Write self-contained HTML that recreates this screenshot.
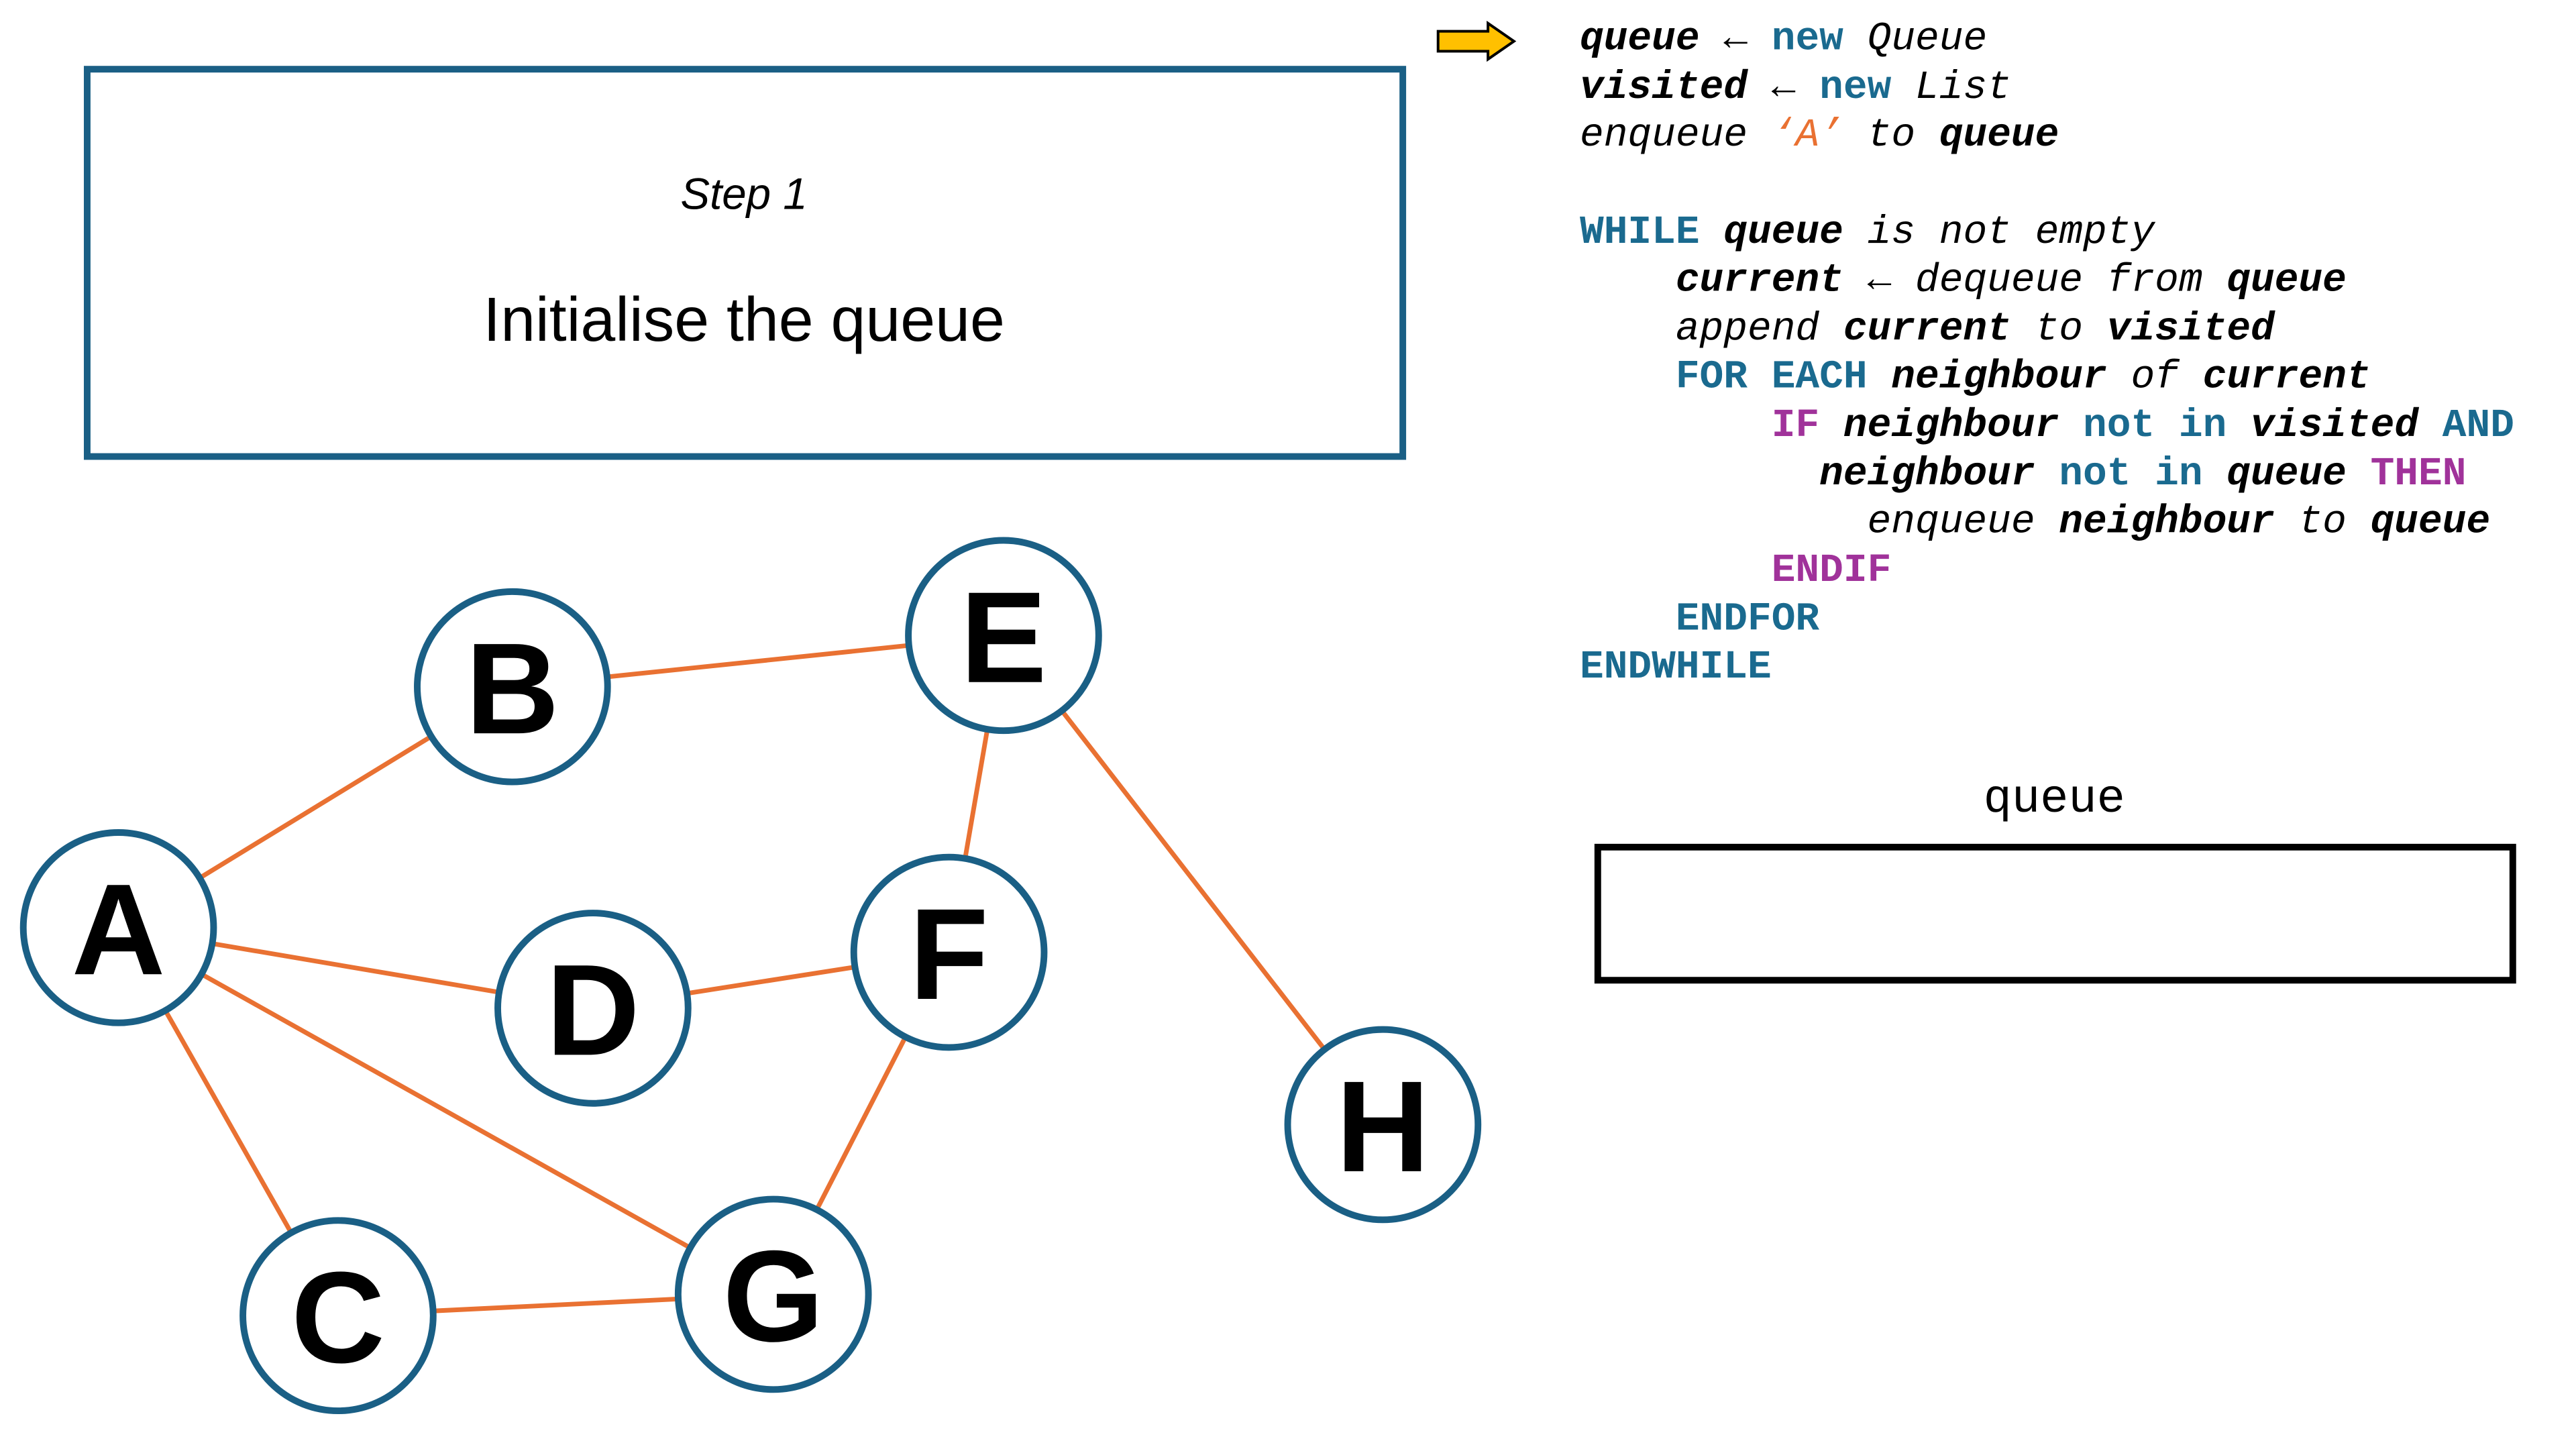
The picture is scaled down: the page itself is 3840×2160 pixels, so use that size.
<!DOCTYPE html>
<html><head><meta charset="utf-8"><style>
html,body{margin:0;padding:0;background:#fff;}
svg{display:block;}
</style></head><body>
<svg width="3840" height="2160" viewBox="0 0 3840 2160" xmlns="http://www.w3.org/2000/svg">
<g transform="scale(0.992)">
<rect x="131" y="104" width="1977" height="582" fill="none" stroke="#1a5f85" stroke-width="10"/>
<text x="1118" y="314" font-family="Liberation Sans, sans-serif" font-style="italic" font-size="66" text-anchor="middle">Step 1</text>
<text x="1118" y="512" font-family="Liberation Sans, sans-serif" font-size="94" text-anchor="middle">Initialise the queue</text>
<g stroke="#e97132" stroke-width="7">
<line x1="178" y1="1394" x2="770" y2="1032"/>
<line x1="770" y1="1032" x2="1508" y2="955"/>
<line x1="1508" y1="955" x2="1426" y2="1431"/>
<line x1="1508" y1="955" x2="2078" y2="1690"/>
<line x1="178" y1="1394" x2="891" y2="1515"/>
<line x1="891" y1="1515" x2="1426" y2="1431"/>
<line x1="178" y1="1394" x2="1162" y2="1945"/>
<line x1="178" y1="1394" x2="508" y2="1977"/>
<line x1="1426" y1="1431" x2="1162" y2="1945"/>
<line x1="508" y1="1977" x2="1162" y2="1945"/>
</g>
<g fill="#fff" stroke="#1a5f85" stroke-width="10">
<circle cx="178" cy="1394" r="143"/><circle cx="770" cy="1032" r="143"/>
<circle cx="1508" cy="955" r="143"/><circle cx="891" cy="1515" r="143"/>
<circle cx="1426" cy="1431" r="143"/><circle cx="2078" cy="1690" r="143"/>
<circle cx="508" cy="1977" r="143"/><circle cx="1162" cy="1945" r="143"/>
</g>
<g font-family="Liberation Sans, sans-serif" font-weight="bold" font-size="195" text-anchor="middle">
<text x="178" y="1464">A</text><text x="770" y="1102">B</text>
<text x="1508" y="1025">E</text><text x="891" y="1585">D</text>
<text x="1426" y="1501">F</text><text x="2078" y="1760">H</text>
<text x="508" y="2047">C</text><text x="1162" y="2015">G</text>
</g>
<polygon points="2161,47 2236,47 2236,35 2275,62 2236,89 2236,77 2161,77" fill="#ffc000" stroke="#000" stroke-width="4"/>
<g font-family="Liberation Mono, DejaVu Sans Mono, monospace" font-size="60" xml:space="preserve">
<text x="2374" y="74"><tspan font-weight="bold" font-style="italic">queue</tspan><tspan font-style="italic"> ← </tspan><tspan font-weight="bold" fill="#1a6a8f">new</tspan><tspan font-style="italic"> Queue</tspan></text>
<text x="2374" y="147"><tspan font-weight="bold" font-style="italic">visited</tspan><tspan font-style="italic"> ← </tspan><tspan font-weight="bold" fill="#1a6a8f">new</tspan><tspan font-style="italic"> List</tspan></text>
<text x="2374" y="219"><tspan font-style="italic">enqueue </tspan><tspan font-style="italic" fill="#e97132">‘A’</tspan><tspan font-style="italic"> to </tspan><tspan font-weight="bold" font-style="italic">queue</tspan></text>
<text x="2374" y="365"><tspan font-weight="bold" fill="#1a6a8f">WHILE</tspan><tspan> </tspan><tspan font-weight="bold" font-style="italic">queue</tspan><tspan font-style="italic"> is not empty</tspan></text>
<text x="2518" y="437"><tspan font-weight="bold" font-style="italic">current</tspan><tspan font-style="italic"> ← dequeue from </tspan><tspan font-weight="bold" font-style="italic">queue</tspan></text>
<text x="2518" y="510"><tspan font-style="italic">append </tspan><tspan font-weight="bold" font-style="italic">current</tspan><tspan font-style="italic"> to </tspan><tspan font-weight="bold" font-style="italic">visited</tspan></text>
<text x="2518" y="582"><tspan font-weight="bold" fill="#1a6a8f">FOR EACH</tspan><tspan> </tspan><tspan font-weight="bold" font-style="italic">neighbour</tspan><tspan font-style="italic"> of </tspan><tspan font-weight="bold" font-style="italic">current</tspan></text>
<text x="2662" y="655"><tspan font-weight="bold" fill="#a0329a">IF</tspan><tspan> </tspan><tspan font-weight="bold" font-style="italic">neighbour</tspan><tspan> </tspan><tspan font-weight="bold" fill="#1a6a8f">not in</tspan><tspan> </tspan><tspan font-weight="bold" font-style="italic">visited</tspan><tspan> </tspan><tspan font-weight="bold" fill="#1a6a8f">AND</tspan></text>
<text x="2734" y="728"><tspan font-weight="bold" font-style="italic">neighbour</tspan><tspan> </tspan><tspan font-weight="bold" fill="#1a6a8f">not in</tspan><tspan> </tspan><tspan font-weight="bold" font-style="italic">queue</tspan><tspan> </tspan><tspan font-weight="bold" fill="#a0329a">THEN</tspan></text>
<text x="2806" y="800"><tspan font-style="italic">enqueue </tspan><tspan font-weight="bold" font-style="italic">neighbour</tspan><tspan font-style="italic"> to </tspan><tspan font-weight="bold" font-style="italic">queue</tspan></text>
<text x="2662" y="873"><tspan font-weight="bold" fill="#a0329a">ENDIF</tspan></text>
<text x="2518" y="946"><tspan font-weight="bold" fill="#1a6a8f">ENDFOR</tspan></text>
<text x="2374" y="1018"><tspan font-weight="bold" fill="#1a6a8f">ENDWHILE</tspan></text>
<text x="3087" y="1220" font-size="71" text-anchor="middle">queue</text>
</g>
<rect x="2401" y="1273" width="1375" height="200" fill="none" stroke="#000" stroke-width="10"/>
</g>
</svg>
</body></html>
